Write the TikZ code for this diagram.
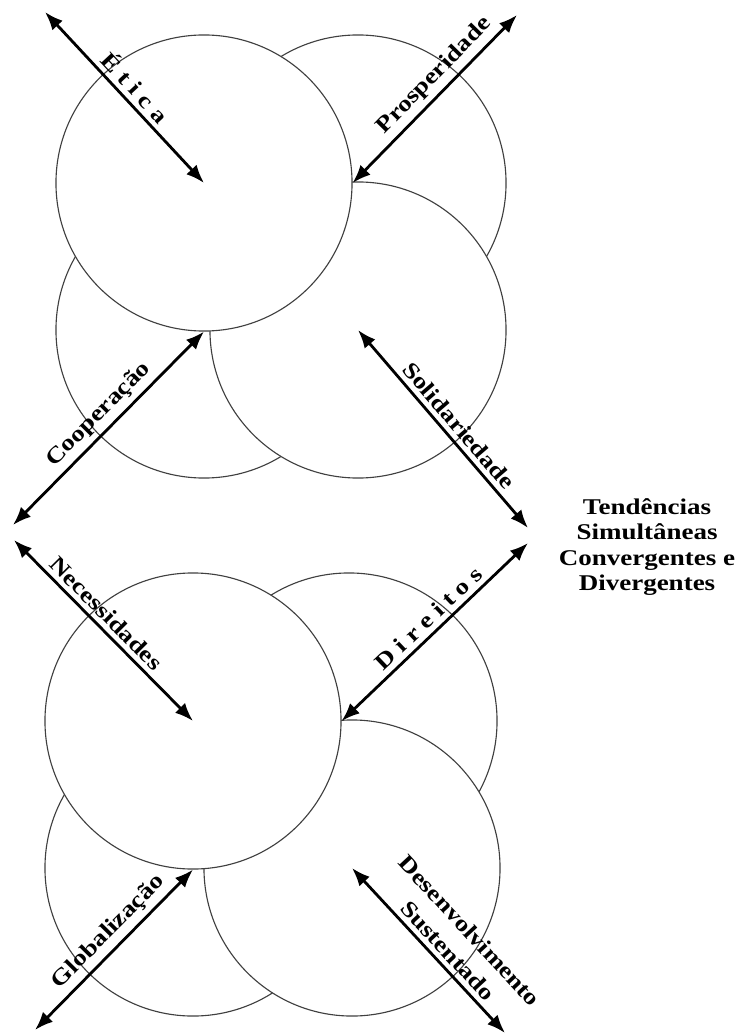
\documentclass[tikz,border=0pt]{standalone}
\usepackage{fontspec}
\setmainfont{Liberation Serif}[FakeStretch=1.2]
\usetikzlibrary{arrows.meta}

\begin{document}
\begin{tikzpicture}[x=0.025cm, y=-0.025cm,
    ring/.style={circle, draw=black!75, line width=0.8pt, fill=white, minimum size=7.4cm, inner sep=0pt},
    biarrow/.style={{Latex[length=13pt,width=10pt]}-{Latex[length=13pt,width=10pt]}, line width=2pt},
    lbl/.style={font=\fontsize{16}{21}\selectfont\bfseries, sloped, above, inner sep=3.5pt, align=center}]
    \useasboundingbox (0,0) rectangle (743,1036);

    % upper group of circles (back to front)
    \node[ring] (uptr) at (358,183) {};
    \node[ring] (upbl) at (204,330) {};
    \node[ring] (upbr) at (358,330) {};
    \node[ring] (uptl) at (204,183) {};

    % lower group of circles
    \node[ring] (lotr) at (349,721) {};
    \node[ring] (lobl) at (193,868) {};
    \node[ring] (lobr) at (352,868) {};
    \node[ring] (lotl) at (193,721) {};

    % free ends of the arrows
    \coordinate (etica) at (45,12);
    \coordinate (prosp) at (517,15);
    \coordinate (coop) at (13,525);
    \coordinate (solid) at (528,528);
    \coordinate (necess) at (14,540);
    \coordinate (direit) at (528,543);
    \coordinate (glob) at (35,1030);
    \coordinate (desenv) at (505,1033);

    \draw[biarrow] (etica) -- node[lbl, pos=0.5] {É t i c a} (uptl.center);
    \draw[biarrow] (uptl.east) -- node[lbl, pos=0.57] {Prosperidade} (prosp);
    \draw[biarrow] (coop) -- node[lbl, pos=0.51] {Cooperação} (uptl.south);
    \draw[biarrow] (upbr.center) -- node[lbl, pos=0.53] {Solidariedade} (solid);

    \draw[biarrow] (necess) -- node[lbl, pos=0.46] {Necessidades} (lotl.center);
    \draw[biarrow] (lotl.east) -- node[lbl, pos=0.52] {D i r e i t o s} (direit);
    \draw[biarrow] (glob) -- node[lbl, pos=0.54] {Globalização} (lotl.south);
    \draw[biarrow] (lobr.center) -- node[lbl, pos=0.56] {Desenvolvimento\\Sustentado} (desenv);

    \node[font=\fontsize{16}{18}\selectfont\bfseries, align=center] (tend) at (647,547)
        {Tendências\\Simultâneas\\Convergentes e\\Divergentes};
\end{tikzpicture}
\end{document}
